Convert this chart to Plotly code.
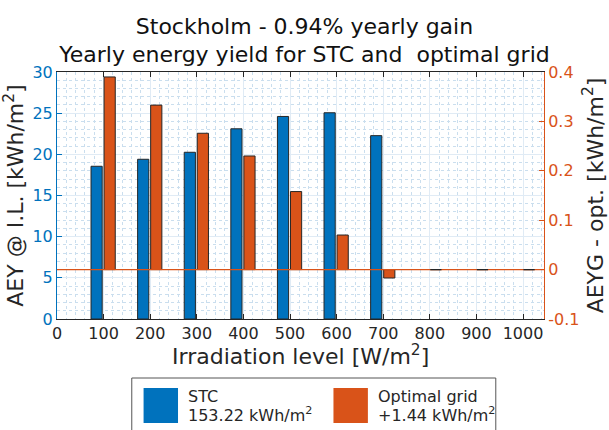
import plotly.graph_objects as go

# Irradiation bins and yearly energy yield per bin
levels = [100, 200, 300, 400, 500, 600, 700, 800, 900, 1000]
aey_stc = [18.55, 19.40, 20.25, 23.10, 24.60, 25.05, 22.27, 0, 0, 0]       # kWh/m2, left axis
aeyg_opt = [0.390, 0.333, 0.276, 0.230, 0.158, 0.070, -0.017, 0, 0, 0]     # kWh/m2, right axis
x_ticks = [0, 100, 200, 300, 400, 500, 600, 700, 800, 900, 1000]
y_left_ticks = [0, 5, 10, 15, 20, 25, 30]
y_right_ticks = [-0.1, 0, 0.1, 0.2, 0.3, 0.4]
y_right_labels = ["-0.1", "0", "0.1", "0.2", "0.3", "0.4"]
city = "Stockholm"

BLUE = "#0072BD"
ORANGE = "#D95319"
INK = "#262626"
FONT = "DejaVu Sans"
X_RANGE = [0, 1045]

total_stc = sum(aey_stc)
total_gain = sum(aeyg_opt)
gain_pct = 100 * total_gain / total_stc

# plot-area geometry (pixels) used to place the hand-drawn legend
W, H = 609, 430
ML, MR, MT, MB = 57, 57, 72, 111
PW, PH = W - ML - MR, H - MT - MB


def px(xp):
    return (xp - ML) / PW


def py(yp):
    return (H - MB - yp) / PH


fig = go.Figure()

BAR_W = 24
OFF_STC, OFF_OPT = -15, 13
fig.add_trace(go.Bar(
    x=[l + OFF_STC for l in levels], y=aey_stc, width=BAR_W,
    marker=dict(color=BLUE,
                line=dict(color=INK, width=[1 if v != 0 else 0 for v in aey_stc])),
    yaxis="y", showlegend=False,
))
fig.add_trace(go.Bar(
    x=[l + OFF_OPT for l in levels], y=aeyg_opt, width=BAR_W,
    marker=dict(color=ORANGE, line=dict(color=INK, width=1)),
    yaxis="y2", showlegend=False,
))

# zero reference of the right axis, on top of the bars
fig.add_trace(go.Scatter(x=X_RANGE, y=[0, 0], mode="lines", yaxis="y2",
                         line=dict(color=ORANGE, width=1.4), showlegend=False,
                         hoverinfo="skip"))

# flat outline of the zero-height bars, drawn over the reference line
zx, zy = [], []
for l, v in zip(levels, aeyg_opt):
    if v == 0:
        zx += [l + OFF_OPT - BAR_W / 2, l + OFF_OPT + BAR_W / 2, None]
        zy += [v, v, None]
fig.add_trace(go.Scatter(x=zx, y=zy, mode="lines", yaxis="y2",
                         line=dict(color=INK, width=1.2), showlegend=False,
                         hoverinfo="skip"))

# legend box
fig.add_shape(type="rect", xref="paper", yref="paper",
              x0=px(133), x1=px(503), y0=py(378), y1=py(445),
              line=dict(color="#555555", width=1), fillcolor="white")
fig.add_shape(type="rect", xref="paper", yref="paper",
              x0=px(145), x1=px(180), y0=py(388), y1=py(423),
              line=dict(width=0), fillcolor=BLUE)
fig.add_shape(type="rect", xref="paper", yref="paper",
              x0=px(338), x1=px(373), y0=py(388), y1=py(423),
              line=dict(width=0), fillcolor=ORANGE)

leg_font = dict(family=FONT, size=16, color=INK)
legend_items = [
    (188, "STC", f"{total_stc:.2f} kWh/m<sup>2</sup>"),
    (381, "Optimal grid", f"+{total_gain:.2f} kWh/m<sup>2</sup>"),
]
for xp, l1, l2 in legend_items:
    fig.add_annotation(xref="paper", yref="paper", x=px(xp), y=py(396),
                       text=l1, showarrow=False, xanchor="left", yanchor="middle",
                       font=leg_font)
    fig.add_annotation(xref="paper", yref="paper", x=px(xp), y=py(414),
                       text=l2, showarrow=False, xanchor="left", yanchor="middle",
                       font=leg_font)

# x-axis title
fig.add_annotation(xref="paper", yref="paper", x=0.5, y=py(355),
                   text="Irradiation level [W/m<sup>2</sup>]", showarrow=False,
                   xanchor="center", yanchor="middle",
                   font=dict(family=FONT, size=22, color=INK))

grid_major = "rgb(224,235,245)"
grid_minor = "rgb(202,222,238)"

fig.update_layout(
    width=W, height=H,
    margin=dict(l=ML, r=MR, t=MT, b=MB),
    paper_bgcolor="white", plot_bgcolor="white",
    barmode="overlay",
    font=dict(family=FONT, color=INK),
    title=dict(
        text=f"{city} - {gain_pct:.2f}% yearly gain<br>Yearly energy yield for STC and  optimal grid",
        x=0.5, xref="container", xanchor="center",
        y=1 - 33.5 / H, yref="container", yanchor="middle",
        font=dict(family=FONT, size=22, color="#111111"),
    ),
    xaxis=dict(
        range=X_RANGE, tickvals=x_ticks,
        ticks="inside", ticklen=5, tickcolor=INK,
        showline=True, linecolor=INK, linewidth=1, mirror="ticks",
        tickfont=dict(family=FONT, size=16, color=INK),
        showgrid=True, gridcolor=grid_major, gridwidth=1, zeroline=False,
        minor=dict(dtick=20, showgrid=True, gridcolor=grid_minor, griddash="dot", ticks=""),
    ),
    yaxis=dict(
        range=[0, 30], tickvals=y_left_ticks,
        ticks="inside", ticklen=5, tickcolor=BLUE,
        showline=True, linecolor=BLUE, linewidth=1,
        tickfont=dict(family=FONT, size=16, color=BLUE),
        showgrid=True, gridcolor=grid_major, gridwidth=1, zeroline=False,
        minor=dict(dtick=1, showgrid=True, gridcolor=grid_minor, griddash="dot", ticks=""),
        title=dict(text="AEY @ I.L. [kWh/m<sup>2</sup>]",
                   font=dict(family=FONT, size=22, color=INK), standoff=2),
    ),
    yaxis2=dict(
        overlaying="y", side="right",
        range=[-0.1, 0.4], tickvals=y_right_ticks, ticktext=y_right_labels,
        ticks="inside", ticklen=5, tickcolor=ORANGE,
        showline=True, linecolor=ORANGE, linewidth=1,
        tickfont=dict(family=FONT, size=16, color=ORANGE),
        showgrid=False, zeroline=False,
        title=dict(text="AEYG - opt. [kWh/m<sup>2</sup>]",
                   font=dict(family=FONT, size=22, color=INK), standoff=2),
    ),
)

fig.write_html("out.html")
